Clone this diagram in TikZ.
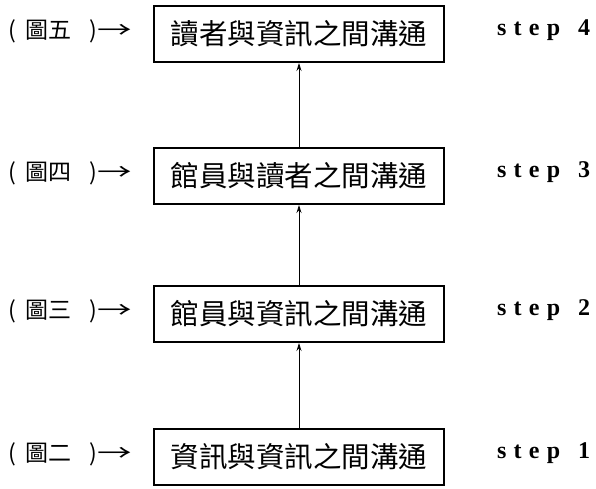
\documentclass[tikz,border=0pt]{standalone}
\usepackage{fontspec}
\usepackage{graphicx}
\setmainfont{Liberation Serif}
\newfontfamily\cjk{Noto Sans CJK TC}
\newfontfamily\stepfont[LetterSpace=30]{Liberation Serif}
\usetikzlibrary{arrows.meta}

\begin{document}
\begin{tikzpicture}[x=1pt, y=-1pt, every node/.style={inner sep=0pt},
    stage/.style={draw, line width=2pt, minimum width=290pt, minimum height=56pt,
        font=\cjk\fontsize{28.5}{28.5}\selectfont},
    figlabel/.style={anchor=west, font=\cjk\fontsize{23}{23}\selectfont},
    steplabel/.style={anchor=west, font=\stepfont\bfseries\fontsize{24}{24}\selectfont},
    up/.style={-{Stealth[length=8pt, width=5pt]}, line width=0.8pt}]
    \useasboundingbox (0,0) rectangle (596,489);

    % one row per stage: label, box, step number
    \foreach \n/\y/\fig/\txt in {4/34/五/讀者與資訊之間溝通,
                                 3/176/四/館員與讀者之間溝通,
                                 2/314/三/館員與資訊之間溝通,
                                 1/457/二/資訊與資訊之間溝通} {
        \node[stage] (box\n) at (299,\y) {\txt};
        \node[figlabel] (fig\n) at (8,\y-3) {(\hspace{10pt}圖\fig\hspace{18pt})\scalebox{1.5}[1]{→}};
        \node[steplabel] (step\n) at (497,\y-4) {step\hspace{18pt}\n};
    }

    % arrows up through the stages
    \foreach \a/\b in {1/2, 2/3, 3/4}
        \draw[up] (box\a) -- (box\b);
\end{tikzpicture}
\end{document}
